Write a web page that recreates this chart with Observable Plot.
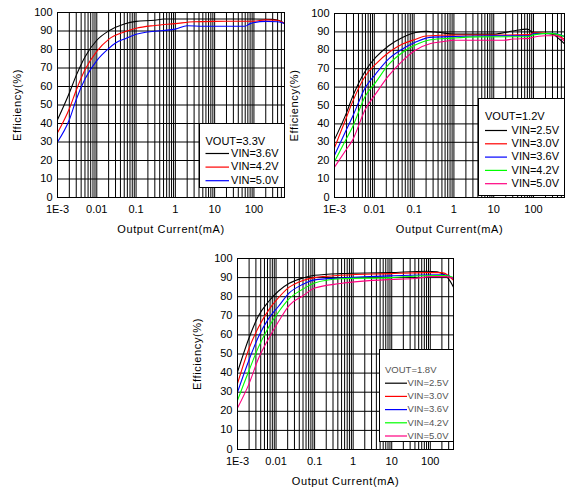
<!DOCTYPE html>
<html>
<head>
<meta charset="utf-8">
<script src="https://cdn.jsdelivr.net/npm/d3@7"></script>
<script src="https://cdn.jsdelivr.net/npm/@observablehq/plot@0.6"></script>
<style>
  body { margin: 0; background: #fff; }
  #page { position: relative; width: 582px; height: 492px; font-family: "Liberation Sans", Arial, sans-serif; }
  .panel, .legend { position: absolute; }
</style>
</head>
<body>
<div id="page"></div>
<script>
// tick values and labels shared by the three charts
const currentTicks = [0.001, 0.01, 0.1, 1, 10, 100]
const currentTickLabels = ["1E-3", "0.01", "0.1", "1", "10", "100"]
const effTicks = [0, 10, 20, 30, 40, 50, 60, 70, 80, 90, 100]

// VOUT = 3.3V   [output current mA, efficiency %]
const v33_vin36 = [[0.001,42],[0.002,56.5],[0.003,66],[0.005,76],[0.01,85],[0.02,90],[0.05,93.8],[0.1,95.2],[0.3,95.8],[0.5,96.5],[1,96.5],[10,96.5],[100,96.5],[300,96.3],[450,95.5],[600,94]]
const v33_vin42 = [[0.001,35],[0.002,48],[0.003,58],[0.005,69],[0.01,79],[0.02,85.5],[0.05,89.5],[0.1,91.5],[0.3,93],[1,94],[3,95],[10,95.2],[100,95.3],[200,96],[400,95.8],[600,94]]
const v33_vin50 = [[0.001,30],[0.002,42],[0.003,53],[0.005,64],[0.01,74],[0.02,80.5],[0.03,83.5],[0.055,86],[0.1,88.2],[0.2,89.5],[0.5,90.3],[1,91],[2,92.8],[5,92.6],[60,92.6],[80,94],[200,95.2],[400,95],[600,94]]

// VOUT = 1.2V
const v12_vin25 = [[0.001,31.5],[0.002,46],[0.0028,54.4],[0.006,68.9],[0.0108,76.1],[0.023,82.5],[0.051,87],[0.11,89.7],[0.2,90.3],[0.4,89.8],[1,88.8],[10,88.8],[30,90.5],[70,91.5],[100,89.5],[300,88.8],[450,86],[600,83.5]]
const v12_vin30 = [[0.001,27],[0.002,43.6],[0.0028,51.7],[0.006,66.2],[0.0108,72.5],[0.023,78.8],[0.051,83.4],[0.11,86],[0.2,87.8],[1,88.3],[10,88.3],[80,88.5],[100,89.5],[300,89],[600,86]]
const v12_vin36 = [[0.001,23],[0.002,36.9],[0.0028,43.6],[0.006,59.9],[0.0108,67.1],[0.023,75.3],[0.051,80.7],[0.11,84.5],[0.25,87],[1,87.5],[10,87.9],[80,87.9],[100,89],[300,89.2],[600,87.5]]
const v12_vin42 = [[0.001,19.5],[0.002,32],[0.0028,38.1],[0.006,55.3],[0.0108,62.6],[0.023,72.3],[0.051,78.8],[0.11,83],[0.26,85.7],[0.85,86.6],[4,87.3],[70,87.4],[100,88.4],[270,89.2],[600,87.5]]
const v12_vin50 = [[0.001,16.5],[0.002,26.2],[0.0028,30.9],[0.006,48.1],[0.0108,56.3],[0.023,66.2],[0.051,74.3],[0.11,80.2],[0.26,83.7],[0.56,84.8],[1,85.5],[18,85.5],[30,86.1],[80,86.5],[90,87],[200,87.9],[370,87.9],[600,85]]

// VOUT = 1.8V
const v18_vin25 = [[0.001,40.5],[0.002,58.5],[0.0035,70],[0.0064,77.5],[0.0116,83],[0.022,87],[0.05,89.8],[0.1,91.2],[0.47,92.1],[9,92.6],[80,93.3],[150,93],[250,91],[330,88],[400,85]]
const v18_vin30 = [[0.001,34.5],[0.002,53],[0.0035,64],[0.0064,73],[0.0116,79.5],[0.022,85],[0.05,88.5],[0.1,90],[0.47,91.2],[9,92.1],[80,92.6],[200,92.6],[300,91],[400,88.5]]
const v18_vin36 = [[0.001,30],[0.002,47],[0.0035,59],[0.0064,68.5],[0.0116,75],[0.022,82],[0.05,86.5],[0.1,88.8],[0.47,89.8],[9,90.9],[60,91.4],[200,91.5],[300,91],[400,89.3]]
const v18_vin42 = [[0.001,25.7],[0.002,41.5],[0.0035,53.6],[0.0064,64],[0.0116,72],[0.022,79],[0.05,84],[0.1,87.2],[0.47,89.4],[9,90],[70,91],[250,91.1],[400,90]]
const v18_vin50 = [[0.001,21.7],[0.002,34.5],[0.0035,47.6],[0.0064,58],[0.0116,67],[0.022,75.5],[0.05,80.5],[0.1,84.5],[0.47,86.9],[9,89],[40,89.5],[100,90.5],[250,90.5],[400,89.7]]

const vinColors = {"2.5": "#000000", "3.0": "#ff0000", "3.6": "#0000ff", "4.2": "#00ff00", "5.0": "#ff0080"}

const panels = [
  {
    left: 0, top: 0, width: 295, height: 240,
    margin: [12, 11, 43, 57], xMax: 600,
    title: "VOUT=3.3V",
    series: [
      {name: "VIN=3.6V", color: "#000000", values: v33_vin36},
      {name: "VIN=4.2V", color: "#ff0000", values: v33_vin42},
      {name: "VIN=5.0V", color: "#0000ff", values: v33_vin50}
    ],
    legend: {x: 199, y: 123, w: 86, h: 65, titleY: 17.7, row0: 30, step: 13.6, line: [6.5, 30], textX: 79.5, anchor: "end", size: 11, color: "#000"}
  },
  {
    left: 285, top: 0, width: 297, height: 240,
    margin: [13, 18, 43, 49], xMax: 600,
    title: "VOUT=1.2V",
    series: ["2.5", "3.0", "3.6", "4.2", "5.0"].map((v, i) => ({
      name: "VIN=" + v + "V", color: vinColors[v],
      values: [v12_vin25, v12_vin30, v12_vin36, v12_vin42, v12_vin50][i]
    })),
    legend: {x: 478, y: 98, w: 87, h: 98, titleY: 17.7, row0: 32, step: 13.3, line: [7, 29], textX: 81, anchor: "end", size: 11, color: "#000"}
  },
  {
    left: 180, top: 240, width: 300, height: 252,
    margin: [18, 27, 43, 57], xMax: 400,
    title: "VOUT=1.8V",
    series: ["2.5", "3.0", "3.6", "4.2", "5.0"].map((v, i) => ({
      name: "VIN=" + v + "V", color: vinColors[v],
      values: [v18_vin25, v18_vin30, v18_vin36, v18_vin42, v18_vin50][i]
    })),
    legend: {x: 379, y: 349, w: 75, h: 93, titleY: 20.3, row0: 33.7, step: 13.2, line: [6, 28], textX: 69.5, anchor: "end", size: 9.5, color: "#555"}
  }
]

const page = d3.select("#page")
const labelFor = new Map(currentTicks.map((d, i) => [d, currentTickLabels[i]]))

panels.forEach(drawPanel)

function drawPanel(cfg) {
  const [mt, mr, mb, ml] = cfg.margin
  // minor log grid: 1..9 in every decade
  const gridX = d3.scaleLog().domain([0.001, cfg.xMax]).ticks().filter(d => d <= cfg.xMax)

  const chart = Plot.plot({
    width: cfg.width,
    height: cfg.height,
    marginTop: mt,
    marginRight: mr,
    marginBottom: mb,
    marginLeft: ml,
    style: {fontFamily: "'Liberation Sans', Arial, sans-serif", fontSize: "11px", color: "#000", background: "transparent", overflow: "visible"},
    x: {type: "log", domain: [0.001, cfg.xMax]},
    y: {domain: [0, 100]},
    marks: [
      Plot.ruleX(gridX, {stroke: "#000", strokeWidth: 1}),
      Plot.ruleY(effTicks, {stroke: "#000", strokeWidth: 1}),
      ...cfg.series.map(s => Plot.line(s.values, {
        x: d => d[0], y: d => d[1], stroke: s.color, strokeWidth: 1.1, curve: "monotone-x"
      })),
      Plot.frame({stroke: "#000"}),
      Plot.axisX(currentTicks, {
        tickSize: 0, tickPadding: 7.5, tickFormat: d => labelFor.get(d),
        label: "Output Current(mA)", labelAnchor: "center", labelOffset: 35, labelArrow: "none"
      }),
      Plot.axisY(effTicks, {
        tickSize: 0, tickPadding: 5, dy: -0.5,
        label: "Efficiency(%)", labelAnchor: "center", labelOffset: 44, labelArrow: "none"
      })
    ]
  })

  // the scanned titles are drawn with loose letter spacing
  d3.select(chart).selectAll('g[aria-label="x-axis label"] text, g[aria-label="y-axis label"] text')
    .style("letter-spacing", "0.6px")

  page.append("div")
    .attr("class", "panel")
    .style("left", cfg.left + "px")
    .style("top", cfg.top + "px")
    .append(() => chart)

  drawLegend(cfg)
}

function drawLegend(cfg) {
  const L = cfg.legend
  const svg = page.append("svg")
    .attr("class", "legend")
    .style("left", L.x + "px")
    .style("top", L.y + "px")
    .attr("width", L.w)
    .attr("height", L.h)
    .style("font-family", "'Liberation Sans', Arial, sans-serif")
    .style("font-size", L.size + "px")

  svg.append("rect")
    .attr("x", 0.5).attr("y", 0.5)
    .attr("width", L.w - 1).attr("height", L.h - 1)
    .attr("fill", "#fff").attr("stroke", "#000")

  svg.append("text")
    .attr("x", L.line[0])
    .attr("y", L.titleY)
    .attr("dy", "0.35em")
    .attr("fill", L.color)
    .text(cfg.title)

  const rows = svg.selectAll("g.row")
    .data(cfg.series)
    .join("g")
    .attr("class", "row")
    .attr("transform", (d, i) => `translate(0,${L.row0 + i * L.step})`)

  rows.append("line")
    .attr("x1", L.line[0]).attr("x2", L.line[1])
    .attr("y1", 0.5).attr("y2", 0.5)
    .attr("stroke", d => d.color)
    .attr("stroke-width", 1.2)

  rows.append("text")
    .attr("x", L.textX)
    .attr("dy", "0.35em")
    .attr("text-anchor", L.anchor)
    .attr("fill", L.color)
    .text(d => d.name)
}
</script>
</body>
</html>
